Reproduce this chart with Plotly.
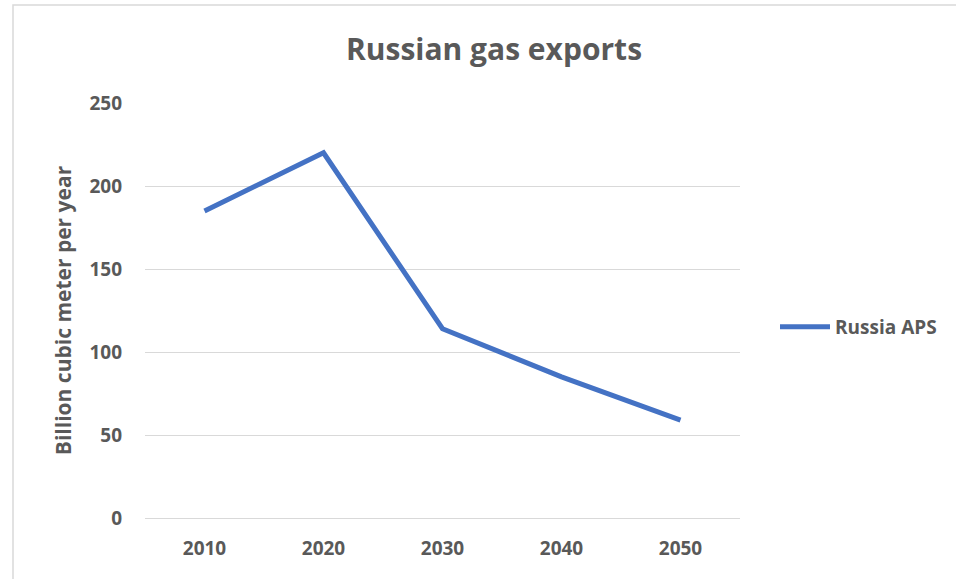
import plotly.graph_objects as go

years = ["2010", "2020", "2030", "2040", "2050"]
russia_aps = [185, 220, 114, 85, 59]
y_ticks = [0, 50, 100, 150, 200, 250]

W, H = 956, 579
L, R, T, B = 145, 216, 103, 61
pw, ph = W - L - R, H - T - B

text_color = "#595959"
grid_color = "#d9d9d9"
font_family = "Open Sans, Lato, sans-serif"


def bold(size):
    return dict(size=size, color=text_color, family=font_family, weight="bold")


fig = go.Figure()
fig.add_trace(go.Scatter(
    x=years, y=russia_aps, mode="lines", name="Russia APS",
    line=dict(color="#4472C4", width=5),
    hoverinfo="skip",
))

fig.update_layout(
    width=W, height=H,
    margin=dict(l=L, r=R, t=T, b=B),
    paper_bgcolor="white", plot_bgcolor="white",
    font=dict(family=font_family, color=text_color),
    title=dict(
        text="Russian gas exports",
        x=494 / W, xanchor="center", xref="container",
        y=1 - 49 / H, yanchor="middle", yref="container",
        font=bold(30),
    ),
    showlegend=True,
    legend=dict(
        x=(775 - L) / pw, xanchor="left", y=(H - B - 327) / ph, yanchor="middle",
        font=bold(19),
        bgcolor="rgba(0,0,0,0)", itemwidth=50, itemsizing="constant",
    ),
    xaxis=dict(
        type="category", range=[-0.5, 4.5],
        showgrid=False, showline=False, zeroline=False, ticks="",
        tickfont=bold(19),
        ticklabelstandoff=17,
    ),
    yaxis=dict(
        range=[0, 250], tickvals=y_ticks,
        showgrid=True, gridcolor=grid_color, gridwidth=1.2,
        zeroline=True, zerolinecolor=grid_color, zerolinewidth=1.2,
        showline=False, ticks="",
        tickfont=bold(19),
        ticklabelstandoff=22,
        title=dict(text="Billion cubic meter per year", standoff=12,
                   font=bold(21)),
    ),
)

# chart frame
fig.add_shape(
    type="rect", xref="paper", yref="paper",
    x0=(13 - L) / pw, x1=(W + 10 - L) / pw,
    y0=(H - B - (H + 10)) / ph, y1=(H - B - 5) / ph,
    line=dict(color=grid_color, width=1.5), fillcolor="rgba(0,0,0,0)",
    layer="below",
)

fig.write_html("out.html")
